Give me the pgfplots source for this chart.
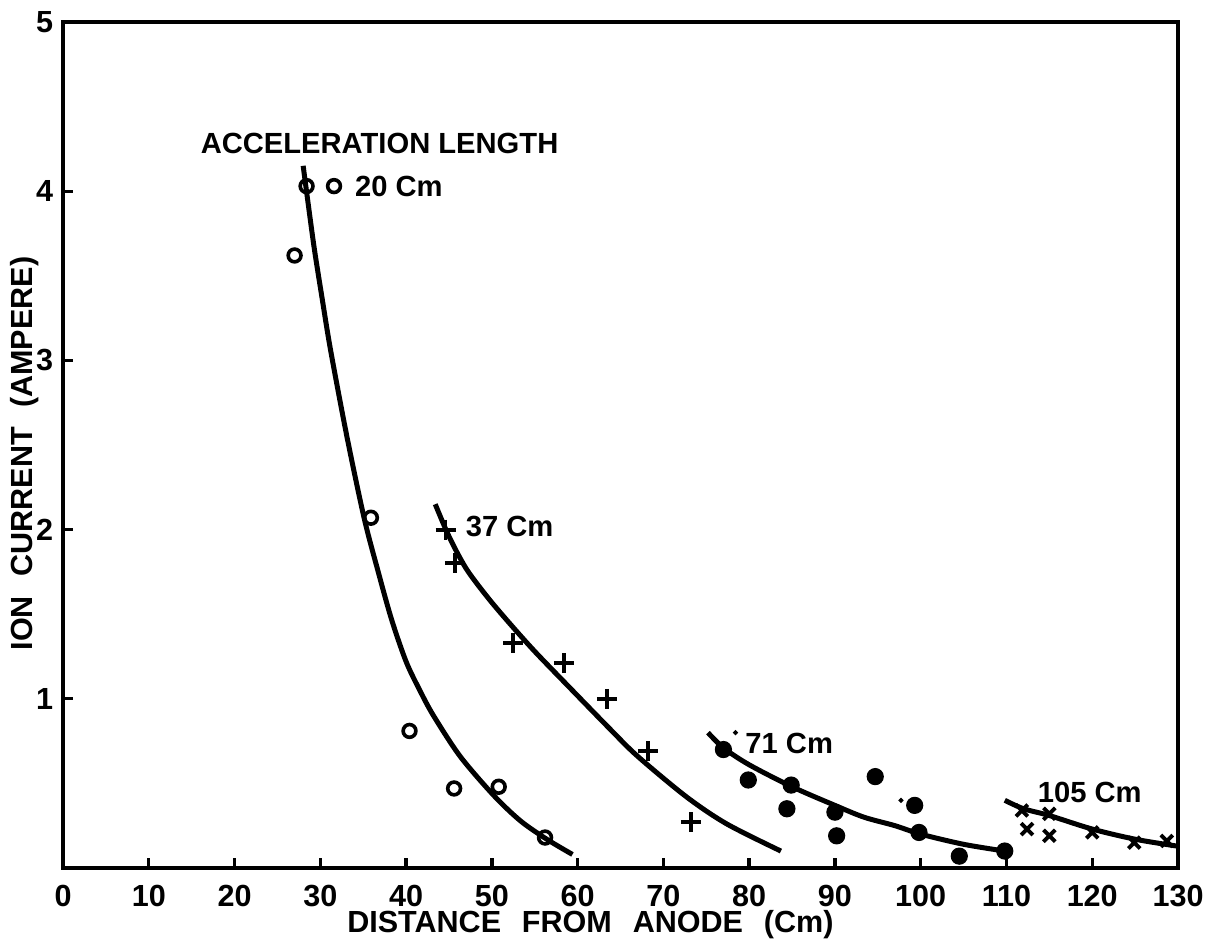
\documentclass[border=0pt]{standalone}
\usepackage{fontspec}
\setmainfont{Liberation Sans}
\usepackage{pgfplots}
\pgfplotsset{compat=1.18}
\begin{document}
\begin{tikzpicture}
\begin{axis}[
  scale only axis, width=401.4pt, height=304.56pt,
  xmin=0, xmax=130, ymin=0, ymax=5,
  xtick={0,10,...,130}, ytick={1,2,3,4,5},
  tick align=inside, major tick length=3.6pt,
  xtick pos=bottom, ytick pos=left,
  axis line style={line width=1.4pt},
  every tick/.style={black, line width=1.2pt},
  /pgf/number format/assume math mode=true,
  ticklabel style={font=\bfseries\fontsize{11}{12}\selectfont},
  xticklabel style={yshift=-2.5pt},
  xlabel={DISTANCE\hspace{7.5pt}FROM\hspace{7.5pt}ANODE\hspace{7.5pt}(Cm)},
  ylabel={ION\hspace{7pt}CURRENT\hspace{7pt}(AMPERE)},
  label style={font=\bfseries\fontsize{11}{12}\selectfont},
  xlabel style={at={(axis description cs:0.473,-0.0674)}, anchor=center},
  ylabel style={at={(axis description cs:-0.034,0.49)}, anchor=center},
  clip=false,
]
% 20 Cm
\addplot[black, line width=1.8pt, smooth] coordinates {
(28.0,4.15)(28.6,3.92)(29.3,3.66)(30.2,3.37)(31.2,3.06)(33.1,2.55)(35.1,2.07)(36.7,1.76)(38.3,1.47)(40,1.22)(41.6,1.05)(43.2,0.9)(46.3,0.66)(50.2,0.43)(53.3,0.28)(56.4,0.17)(59.4,0.08)};
\addplot[only marks, mark=o, mark size=2.3pt, mark options={line width=1.3pt, black}] coordinates {
(28.4,4.03)(27.0,3.62)(35.9,2.07)(40.4,0.81)(45.6,0.47)(50.8,0.48)(56.2,0.18)};
\addplot[only marks, mark=o, mark size=2.3pt, mark options={line width=1.3pt, black}] coordinates {(31.6,4.03)};
% 37 Cm
\addplot[black, line width=1.8pt, smooth] coordinates {
(43.4,2.15)(45,1.96)(47,1.77)(49.5,1.6)(52,1.45)(55,1.28)(59,1.07)(63.8,0.82)(67,0.66)(72.7,0.42)(77.4,0.26)(83.7,0.1)};
\addplot[only marks, mark=+, mark size=3.6pt, mark options={line width=1.4pt, black}] coordinates {
(44.6,2.0)(45.7,1.80)(52.5,1.33)(58.4,1.21)(63.4,1.0)(68.2,0.69)(73.2,0.27)};
% 71 Cm
\addplot[black, line width=1.8pt, smooth] coordinates {
(75.2,0.80)(77,0.71)(80,0.61)(85,0.48)(90,0.37)(93.4,0.30)(97,0.25)(100,0.2)(105,0.14)(109.8,0.1)};
\addplot[only marks, mark=*, mark size=2.9pt, black] coordinates {
(77.0,0.70)(79.9,0.52)(84.9,0.49)(84.4,0.35)(90.0,0.33)(90.2,0.19)(94.7,0.54)(99.3,0.37)(99.8,0.21)(104.5,0.07)(109.8,0.10)};
\addplot[only marks, mark=*, mark size=0.7pt, black] coordinates {(78.4,0.80)(97.7,0.40)};
% 105 Cm
\addplot[black, line width=1.8pt, smooth] coordinates {
(109.8,0.40)(112,0.35)(115,0.31)(120,0.23)(125,0.17)(129.8,0.13)};
\addplot[only marks, mark=x, mark size=3pt, mark options={line width=1.4pt, black}] coordinates {
(111.8,0.34)(115.0,0.32)(112.4,0.23)(115.0,0.19)(120.0,0.21)(124.9,0.15)(128.7,0.16)};
% labels
\node[anchor=west, font=\bfseries\fontsize{10.5}{12}\selectfont, inner sep=0pt] at (axis cs:16,4.28) {ACCELERATION LENGTH};
\node[anchor=west, font=\bfseries\fontsize{10.5}{12}\selectfont, inner sep=0pt] at (axis cs:34,4.03) {20 Cm};
\node[anchor=west, font=\bfseries\fontsize{10.5}{12}\selectfont, inner sep=0pt] at (axis cs:46.9,2.02) {37 Cm};
\node[anchor=west, font=\bfseries\fontsize{10.5}{12}\selectfont, inner sep=0pt] at (axis cs:79.5,0.735) {71 Cm};
\node[anchor=west, font=\bfseries\fontsize{10.5}{12}\selectfont, inner sep=0pt] at (axis cs:113.6,0.446) {105 Cm};
\end{axis}
\pgfresetboundingbox
\path ([shift={(-22.68pt,-28.44pt)}]current axis.south west) rectangle ([shift={(14.76pt,7.92pt)}]current axis.north east);
\end{tikzpicture}
\end{document}
